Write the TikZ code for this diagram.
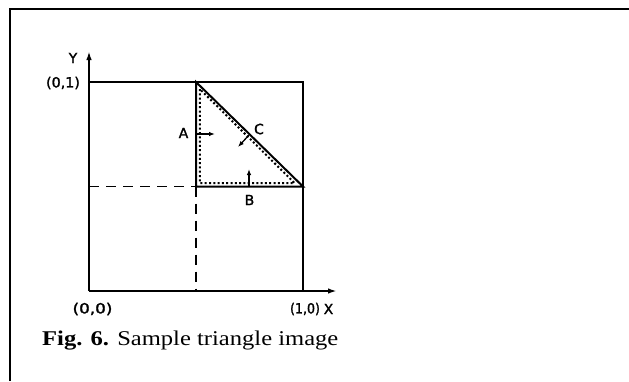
\documentclass[tikz,border=0pt]{standalone}
\usepackage{fontspec}
\usepackage{graphicx}
\setmainfont{Liberation Serif}
\newfontfamily\lblfont[FakeBold=1.6]{DejaVu Sans}
\usetikzlibrary{arrows.meta}
\begin{document}
\begin{tikzpicture}[x=1pt,y=-1pt,
  solidline/.style={line width=2pt},
  dashline/.style={line width=1.8pt,dash pattern=on 10pt off 7pt},
  dotline/.style={line width=2pt,dash pattern=on 2pt off 2.3pt},
  axis/.style={line width=2pt,-{Latex[length=9pt,width=5.5pt]}},
  small/.style={line width=1.3pt,-{Latex[length=6pt,width=4.5pt]}},
  lbl/.style={inner sep=0pt,font=\lblfont\fontsize{14}{14}\selectfont},
  captext/.style={inner sep=0pt,anchor=base west,font=\fontsize{21}{21}\selectfont}]
\useasboundingbox (0,0) rectangle (629,381);
% frame
\coordinate (fb) at (10,381);
\coordinate (ftl) at (10,9);
\coordinate (ftr) at (629,9);
\draw[line width=1.6pt] (fb) -- (ftl) -- (ftr);
% key points
\coordinate (O) at (89,291);
\coordinate (Xend) at (337,291);
\coordinate (Yend) at (89,51);
\coordinate (P01) at (89,82);
\coordinate (P11) at (303,82);
\coordinate (P10) at (303,291);
\coordinate (Mt) at (196,82);
\coordinate (Mm) at (196,186.5);
\coordinate (Mb) at (196,291);
\coordinate (R) at (303,186.5);
\coordinate (L) at (89,186.5);
% axes
\draw[axis] (O) -- (Yend);
\draw[axis] (O) -- (Xend);
% square
\draw[solidline,line join=miter] (P01) -- (P11) -- (P10);
% triangle
\draw[solidline,line join=miter] (Mm) -- (Mt) -- (R) -- cycle;
% dashed lines
\draw[dashline] (L) -- (Mm);
\draw[dashline] (Mm) -- (Mb);
% dotted inner triangle
\coordinate (d1) at (199.8,89);
\coordinate (d2) at (199.8,183);
\coordinate (d3) at (294.5,183);
\draw[dotline] (d1) -- (d2) -- (d3) -- cycle;
% small arrows
\coordinate (aS) at (196,134);
\coordinate (aE) at (215,134);
\coordinate (bS) at (249,186.5);
\coordinate (bE) at (249,169);
\coordinate (cS) at (249,135);
\coordinate (cE) at (238,147);
\draw[small] (aS) -- (aE);
\draw[small] (bS) -- (bE);
\draw[small] (cS) -- (cE);
% labels
\node[lbl] (lA) at (183.5,133) {A};
\node[lbl] (lB) at (249.5,200) {B};
\node[lbl] (lC) at (259,129) {C};
\node[lbl] (lY) at (73,58) {Y};
\node[lbl] (lX) at (328.5,309) {X};
\node[lbl] (l00) at (92.5,309) {\scalebox{1.2}[1]{(0,0)}};
\node[lbl] (l10) at (305,309) {\scalebox{0.9}[1]{(1,0)}};
\node[lbl] (l01) at (63,83) {\scalebox{1.02}[1]{(0,1)}};
\node[captext] (caption) at (42,345) {\scalebox{1.17}[1]{\textbf{Fig. 6.} Sample triangle image}};
\end{tikzpicture}
\end{document}
